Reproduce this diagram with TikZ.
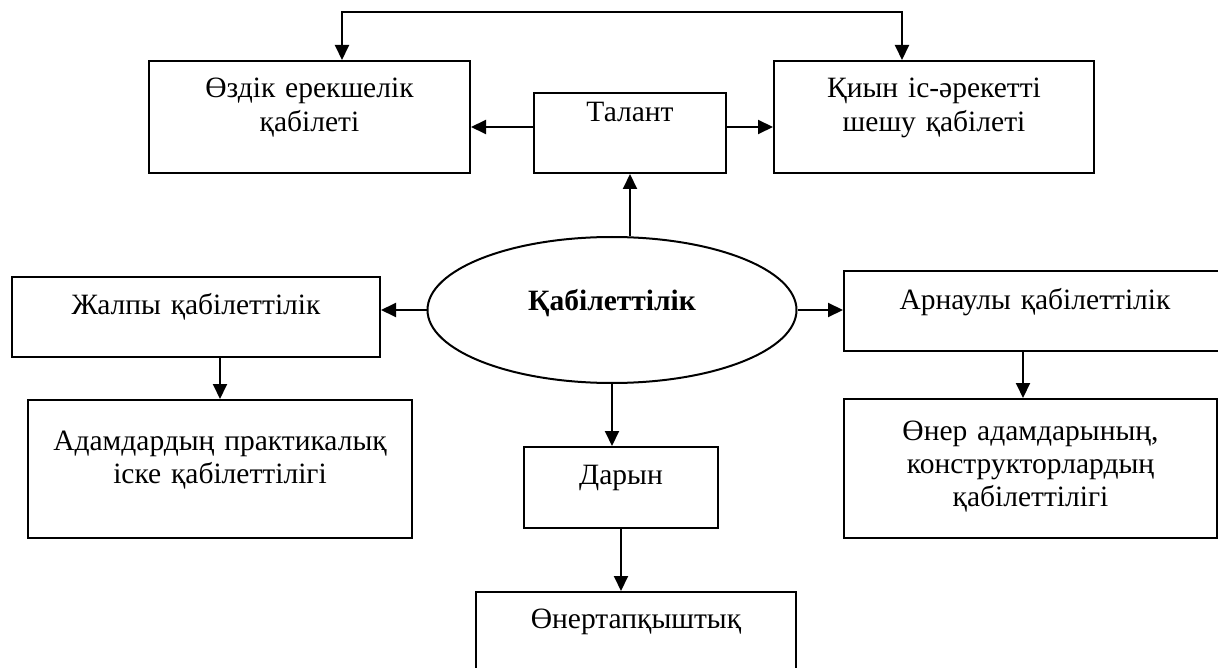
\documentclass[tikz,border=0pt]{standalone}
\usepackage{fontspec}
\setmainfont{Liberation Serif}
\usetikzlibrary{arrows.meta,shapes.geometric}
\tikzset{
  box/.style n args={4}{draw, line width=2pt, inner sep=0pt, align=center,
    anchor=north west, font=\fontsize{29.5}{33}\selectfont,
    minimum width=#1, text width=#1, minimum height=#2,
    text height=#3, text depth=#4},
  arr/.style={line width=2pt, -{Triangle[length=15pt,width=14pt]}},
  arrboth/.style={line width=2pt, {Triangle[length=15pt,width=14pt]}-{Triangle[length=15pt,width=14pt]}},
}
\begin{document}
\begin{tikzpicture}[x=1pt,y=-1pt]
\useasboundingbox (0,0) rectangle (1218,668);
% boxes
\node[box={321pt}{112pt}{37pt}{75pt}] (ozd) at (148,60) {Өздік ерекшелік\\[1pt]қабілеті};
\node[box={192pt}{80pt}{29pt}{51pt}] (tal) at (533,92) {Талант};
\node[box={320pt}{112pt}{37pt}{75pt}] (qiyn) at (773,60) {Қиын іс-әрекетті\\[1pt]шешу қабілеті};
\node[box={368pt}{80pt}{38pt}{42pt}] (jal) at (11,276) {Жалпы қабілеттілік};
\node[box={382pt}{80pt}{38pt}{42pt}] (arn) at (843,270) {Арнаулы қабілеттілік};
\node[box={384pt}{138pt}{50pt}{88pt}] (adam) at (27,399) {Адамдардың практикалық\\іске қабілеттілігі};
\node[box={373pt}{139pt}{41pt}{98pt}] (oner) at (843,398) {Өнер адамдарының,\\конструкторлардың\\қабілеттілігі};
\node[box={194pt}{81pt}{37pt}{44pt}] (dar) at (523,446) {Дарын};
\node[box={320pt}{82pt}{36pt}{46pt}] (ont) at (475,591) {Өнертапқыштық};
% ellipse
\node[draw, ellipse, line width=2pt, inner sep=0pt, minimum width=369pt, minimum height=146pt,
  font=\fontsize{29.5}{33}\selectfont\bfseries, text height=12pt, text depth=12pt] (ell) at (612,310) {Қабілеттілік};
% connectors
\coordinate (topline) at (0,12);
\draw[arrboth] ([xshift=32.5pt]ozd.north) -- ([xshift=32.5pt]ozd.north |- topline)
  -| ([xshift=-32pt]qiyn.north);
\draw[arr] ([yshift=6pt]tal.west) -- ([yshift=6pt]tal.west -| ozd.east);
\draw[arr] ([yshift=6pt]tal.east) -- ([yshift=6pt]tal.east -| qiyn.west);
\draw[arr] (tal.south |- ell.north) -- (tal.south);
\draw[arr] (ell.west) -- (ell.west -| jal.east);
\draw[arr] (ell.east) -- (ell.east -| arn.west);
\draw[arr] (adam.north |- jal.south) -- (adam.north);
\draw[arr] ([xshift=-12pt]arn.south) -- ([xshift=-12pt]arn.south |- oner.north);
\draw[arr] (ell.south) -- (ell.south |- dar.north);
\draw[arr] (dar.south) -- (dar.south |- ont.north);
\end{tikzpicture}
\end{document}
